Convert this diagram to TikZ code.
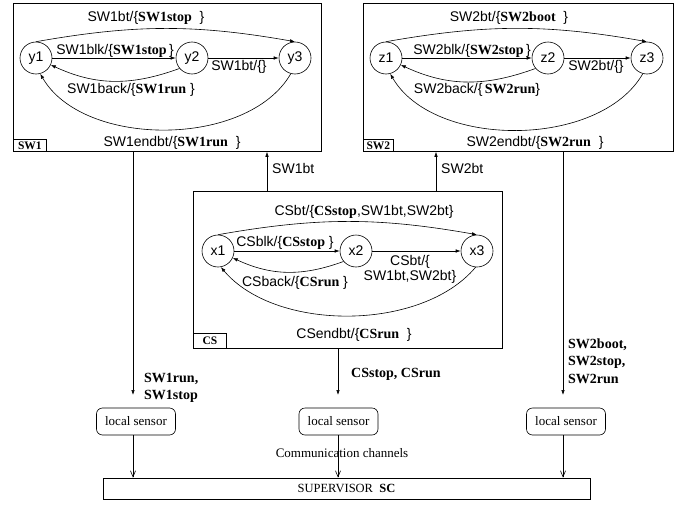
\documentclass[tikz,border=0pt]{standalone}
\usepackage{fontspec}
\setmainfont{Liberation Serif}
\setsansfont{Liberation Sans}
\usetikzlibrary{arrows.meta}
\tikzstyle{canvas} = [x=1pt, y=1pt]
\tikzstyle{stateNode} = [draw, circle, minimum size=32pt, inner sep=0pt, line width=0.6pt, font=\sffamily\fontsize{14}{16}\selectfont]
\tikzstyle{machineBox} = [draw, line width=0.8pt, anchor=north west, inner sep=0pt]
\tikzstyle{tagBox} = [draw, line width=0.8pt, anchor=south west, inner sep=0pt, minimum width=33pt, font=\rmfamily\bfseries\fontsize{11.5}{12}\selectfont]
\tikzstyle{transition} = [line width=0.6pt, -{Latex[length=5pt,width=3.5pt]}]
\tikzstyle{transText} = [inner sep=1pt, align=center, font=\sffamily\fontsize{14}{15}\selectfont]
\tikzstyle{signal} = [line width=0.6pt, -{Latex[length=5pt,width=3.5pt]}]
\tikzstyle{signalText} = [inner sep=1pt, align=left, anchor=west, font=\rmfamily\bfseries\fontsize{14}{17.5}\selectfont]
\tikzstyle{sensorBox} = [draw, rounded corners=6pt, minimum width=79pt, minimum height=27pt, inner sep=0pt, line width=0.6pt, font=\rmfamily\fontsize{13}{15}\selectfont]
\tikzstyle{channel} = [line width=0.6pt, -{Straight Barb[length=6pt,width=5pt]}]
\newcommand{\bsig}[1]{\textrm{\bfseries #1}}
\begin{document}
\begin{tikzpicture}[canvas]
  \useasboundingbox (0,0) rectangle (688,-506);

  % machine boxes
  \node[machineBox, minimum width=308pt, minimum height=148pt] (SWone) at (13,-3) {};
  \node[machineBox, minimum width=310pt, minimum height=148pt] (SWtwo) at (363,-3) {};
  \node[machineBox, minimum width=309pt, minimum height=157pt] (CS) at (193,-191) {};
  \node[tagBox, minimum height=12pt] (SWoneTag) at (SWone.south west) {SW1};
  \node[tagBox, minimum width=30pt, minimum height=12pt] (SWtwoTag) at (SWtwo.south west) {SW2};
  \node[tagBox, minimum height=15pt] (CSTag) at (CS.south west) {CS};

  % SW1
  \node[stateNode] (y1) at (36,-58) {y1};
  \node[stateNode] (y2) at (192,-58) {y2};
  \node[stateNode] (y3) at (295,-58) {y3};
  \draw[transition] (y1.north) to[out=10,in=170] (y3.north);
  \draw[transition] (y1) -- (y2);
  \draw[transition] (y2) -- (y3);
  \draw[transition] (y2.220) to[out=200,in=-25] (y1.-25);
  \draw[transition] (y3.-105) to[out=-120,in=-60,looseness=0.88] (y1.-75);
  \node[transText] (y13Text) at (146,-18) {SW1bt/\{\bsig{SW1stop}\ \ \}};
  \node[transText] (y12Text) at (115,-51) {SW1blk/\{\bsig{SW1stop}\,\}};
  \node[transText] (y23Text) at (239,-67) {SW1bt/\{\}};
  \node[transText] (y21Text) at (131,-90) {SW1back/\{\bsig{SW1run}\ \}};
  \node[transText] (y31Text) at (172,-143) {SW1endbt/\{\bsig{SW1run}\ \ \}};

  % SW2
  \node[stateNode] (z1) at (386,-58) {z1};
  \node[stateNode] (z2) at (548,-58) {z2};
  \node[stateNode] (z3) at (647,-58) {z3};
  \draw[transition] (z1.north) to[out=10,in=170] (z3.north);
  \draw[transition] (z1) -- (z2);
  \draw[transition] (z2) -- (z3);
  \draw[transition] (z2.220) to[out=200,in=-25] (z1.-25);
  \draw[transition] (z3.-105) to[out=-120,in=-60,looseness=0.88] (z1.-75);
  \node[transText] (z13Text) at (509,-18) {SW2bt/\{\bsig{SW2boot}\ \ \}};
  \node[transText] (z12Text) at (472,-51) {SW2blk/\{\bsig{SW2stop}\,\}};
  \node[transText] (z23Text) at (596,-67) {SW2bt/\{\}};
  \node[transText] (z21Text) at (477,-90) {SW2back/\{\,\bsig{SW2run}\}};
  \node[transText] (z31Text) at (535,-143) {SW2endbt/\{\bsig{SW2run}\ \ \}};

  % CS
  \node[stateNode] (x1) at (218,-251) {x1};
  \node[stateNode] (x2) at (356,-251) {x2};
  \node[stateNode] (x3) at (477,-251) {x3};
  \draw[transition] (x1.north) to[out=10,in=170] (x3.north);
  \draw[transition] (x1) -- (x2);
  \draw[transition] (x2) -- (x3);
  \draw[transition] (x2.220) to[out=200,in=-25] (x1.-25);
  \draw[transition] (x3.-95) to[out=-130,in=-50,looseness=0.85] (x1.-80);
  \node[transText] (x13Text) at (364,-212) {CSbt/\{\bsig{CSstop},SW1bt,SW2bt\}};
  \node[transText] (x12Text) at (285,-243) {CSblk/\{\bsig{CSstop}\ \}};
  \node[transText] (x23Text) at (410,-269) {CSbt/\{\\SW1bt,SW2bt\}};
  \node[transText] (x21Text) at (295,-283) {CSback/\{\bsig{CSrun}\ \}};
  \node[transText] (x31Text) at (354,-335) {CSendbt/\{\bsig{CSrun}\ \ \}};

  % CS to machines
  \coordinate (up1) at ([xshift=74pt]CS.north west);
  \coordinate (up2) at ([xshift=243pt]CS.north west);
  \draw[signal] (up1) -- (up1 |- SWone.south);
  \draw[signal] (up2) -- (up2 |- SWtwo.south);
  \node[transText, anchor=west] (up1Text) at (271,-168) {SW1bt};
  \node[transText, anchor=west] (up2Text) at (440,-168) {SW2bt};

  % machines to sensors
  \coordinate (dn1) at (133,-395);
  \coordinate (dn2) at (338,-395);
  \coordinate (dn3) at (563,-395);
  \draw[signal] (dn1 |- SWone.south) -- (dn1);
  \draw[signal] (dn2 |- CS.south) -- (dn2);
  \draw[signal] (dn3 |- SWtwo.south) -- (dn3);
  \node[signalText] (dn1Text) at (143,-388) {SW1run,\\SW1stop};
  \node[signalText] (dn2Text) at (350,-374) {CSstop, CSrun};
  \node[signalText] (dn3Text) at (567,-361) {SW2boot,\\SW2stop,\\SW2run};

  % sensors and supervisor
  \node[sensorBox] (sensA) at (136,-421.5) {local sensor};
  \node[sensorBox] (sensB) at (338.5,-421.5) {local sensor};
  \node[sensorBox] (sensC) at (566,-421.5) {local sensor};
  \node[draw, line width=0.8pt, minimum width=487pt, minimum height=21pt, inner sep=0pt,
        font=\rmfamily\fontsize{12.5}{14}\selectfont] (sup) at (346.5,-488.5) {SUPERVISOR\ \ \textbf{SC}};
  \node[font=\rmfamily\fontsize{13}{15}\selectfont, inner sep=0pt] (chanText) at (342,-453) {Communication channels};
  \draw[channel] (sensA.south -| dn1) -- (dn1 |- sup.north);
  \draw[channel] (sensB.south -| dn2) -- (dn2 |- sup.north);
  \draw[channel] (sensC.south -| dn3) -- (dn3 |- sup.north);
\end{tikzpicture}
\end{document}
